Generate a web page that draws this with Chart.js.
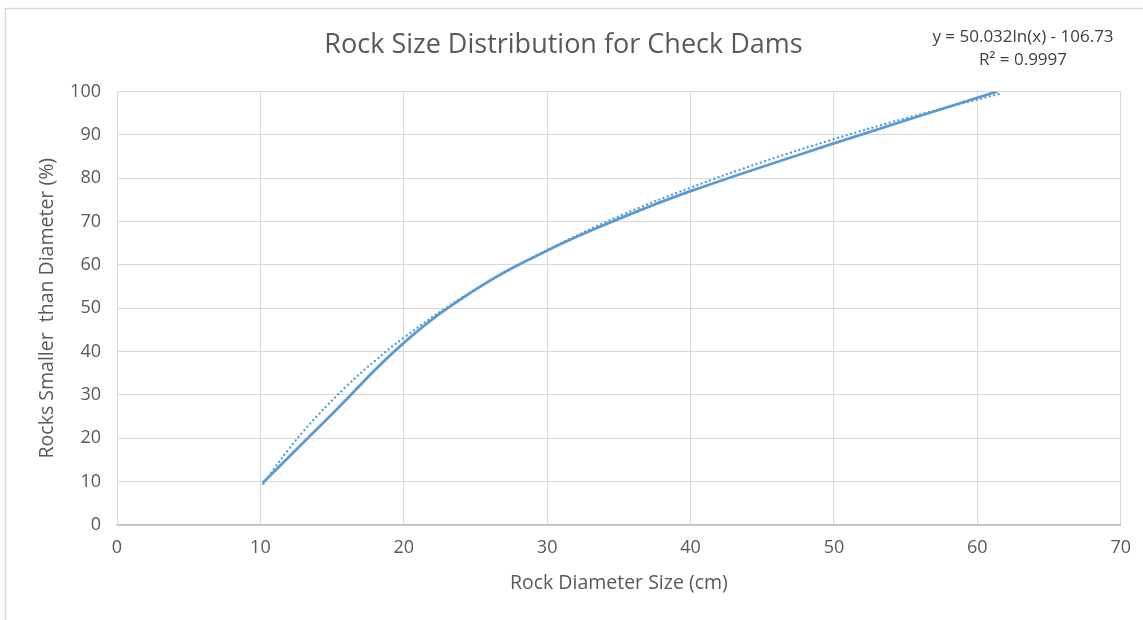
<!DOCTYPE html>
<html>
<head>
<meta charset="utf-8">
<script src="https://cdn.jsdelivr.net/npm/chart.js@4/dist/chart.umd.min.js"></script>
<style>
  body { margin: 0; background: #fff; }
  canvas { display: block; }
</style>
</head>
<body>
<canvas id="rockChart" width="1143" height="620"></canvas>
<script>
"use strict";

// values
const diameters = [10.16, 15, 20, 25, 30, 35, 40, 50, 61.4];
const percentSmaller = [9.7, 25.6, 42.0, 54.3, 63.3, 70.6, 77.0, 88.0, 100];

const trendX = [10.2, 11, 12, 13, 14, 16, 18, 20, 23, 26, 30, 35, 40, 45, 50, 55, 61.5];
const trendY = [9.5, 13.2, 17.6, 21.6, 25.3, 32.0, 37.9, 43.2, 50.2, 56.3, 63.4, 71.2, 77.8, 83.7, 89.0, 93.8, 99.4];

const xTicks = [0, 10, 20, 30, 40, 50, 60, 70];
const yTicks = [0, 10, 20, 30, 40, 50, 60, 70, 80, 90, 100];

const chartTitle = 'Rock Size Distribution for Check Dams';
const xTitle = 'Rock Diameter Size (cm)';
const yTitle = 'Rocks Smaller  than Diameter (%)';
const trendLabel = ['y = 50.032ln(x) - 106.73', 'R\u00B2 = 0.9997'];

const FONT = '"Open Sans", sans-serif';
const blue = '#5B9BD5';

const toPoints = (xs, ys) => xs.map((x, i) => ({ x: x, y: ys[i] }));

const extras = {
  id: 'extras',
  beforeDraw: (chart) => {
    const ctx = chart.ctx;
    ctx.save();
    ctx.strokeStyle = '#d9d9d9';
    ctx.lineWidth = 1.5;
    ctx.beginPath();
    ctx.moveTo(5.5, 700);
    ctx.lineTo(5.5, 8.5);
    ctx.lineTo(1200, 8.5);
    ctx.stroke();
    ctx.restore();
  },
  afterDraw: (chart) => {
    const ctx = chart.ctx;
    ctx.save();
    ctx.fillStyle = '#404040';
    ctx.font = '17px ' + FONT;
    ctx.textAlign = 'center';
    ctx.textBaseline = 'middle';
    ctx.fillText(trendLabel[0], 1023, 37);
    ctx.fillText(trendLabel[1], 1023, 60);
    ctx.restore();
  }
};

const ctx = document.getElementById('rockChart').getContext('2d');
const myChart = new Chart(ctx, {
  type: 'scatter',
  data: {
    datasets: [
      {
        label: 'Rock sizes',
        data: toPoints(diameters, percentSmaller),
        showLine: true,
        borderColor: blue,
        borderWidth: 2.75,
        pointRadius: 0,
        tension: 0.4
      },
      {
        label: 'Log trend',
        data: toPoints(trendX, trendY),
        showLine: true,
        borderColor: blue,
        borderWidth: 2.3,
        borderDash: [0.1, 4.4],
        borderCapStyle: 'round',
        pointRadius: 0,
        tension: 0.4
      }
    ]
  },
  options: {
    responsive: false,
    animation: false,
    devicePixelRatio: 1,
    layout: { padding: { left: 6, right: 22, top: 0, bottom: 0 } },
    plugins: {
      legend: { display: false },
      tooltip: { enabled: false },
      title: {
        display: true,
        text: chartTitle,
        color: '#595959',
        font: { family: FONT, size: 27, weight: 'normal' },
        padding: { top: 29, bottom: 30 }
      }
    },
    scales: {
      x: {
        type: 'linear',
        min: 0,
        max: 70,
        afterBuildTicks: (scale) => { scale.ticks = xTicks.map(v => ({ value: v })); },
        afterFit: (scale) => { scale.height = 95; },
        grid: { color: '#d9d9d9', lineWidth: 1, drawTicks: false },
        border: { color: '#bfbfbf', width: 1.5 },
        ticks: { color: '#595959', font: { family: FONT, size: 18 }, padding: 12 },
        title: {
          display: true,
          text: xTitle,
          color: '#595959',
          font: { family: FONT, size: 19.5 },
          padding: { bottom: 25 }
        }
      },
      y: {
        type: 'linear',
        min: 0,
        max: 100,
        afterBuildTicks: (scale) => { scale.ticks = yTicks.map(v => ({ value: v })); },
        afterFit: (scale) => { scale.width = 111; },
        grid: { color: '#d9d9d9', lineWidth: 1, drawTicks: false },
        border: { color: '#d9d9d9', width: 1 },
        ticks: { color: '#595959', font: { family: FONT, size: 18 }, padding: 16 },
        title: {
          display: true,
          text: yTitle,
          color: '#595959',
          font: { family: FONT, size: 19.5 },
          padding: { top: 30 }
        }
      }
    }
  },
  plugins: [extras]
});
</script>
</body>
</html>
